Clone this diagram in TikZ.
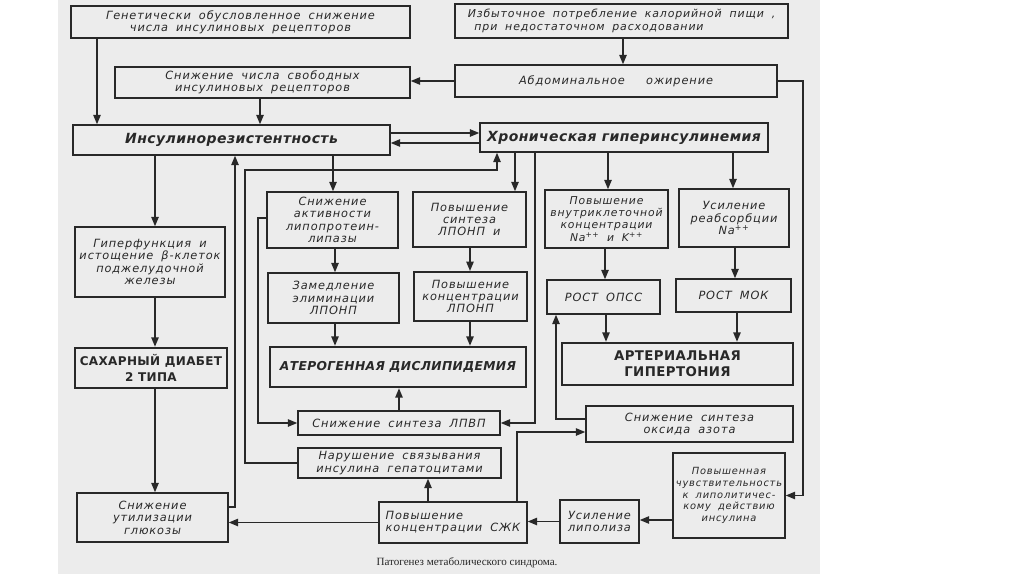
\documentclass[tikz,border=0pt]{standalone}
\usepackage{fontspec}
\setmainfont{DejaVu Sans}
\newfontfamily\hand[LetterSpace=8,WordSpace=1.8]{DejaVu Sans}
\newfontfamily\bhand[LetterSpace=3]{DejaVu Sans}
\newfontfamily\capfont{Liberation Serif}
\usetikzlibrary{arrows.meta}
\definecolor{scan}{RGB}{236,236,236}
\definecolor{ink}{RGB}{40,40,40}
\tikzset{
  box/.style={draw=ink, line width=1.1pt, inner sep=1pt, align=center, text=ink,
    font=\hand\itshape\fontsize{8.5}{9.3}\selectfont},
  tbox/.style={box, line width=1.9pt},
  mbox/.style={box, line width=1.5pt},
  bbox/.style={box, font=\bhand\bfseries\itshape\fontsize{10.5}{12}\selectfont},
  capbox/.style={tbox, font=\bhand\bfseries\fontsize{10}{12}\selectfont},
  arr/.style={draw=ink, line width=1.1pt, -{Triangle[length=7pt,width=5.5pt]}},
}
\newcommand\bx[7]{\node[#6, minimum width={(#4-#2)*0.75pt}, minimum height={(#5-#3)*0.75pt}] (#1) at ({(#2+#4)/2},{(#3+#5)/2}) {#7};}
\begin{document}
\begin{tikzpicture}[x=0.75pt,y=-0.75pt]
\useasboundingbox (0,0) rectangle (1024,574);
\fill[white] (0,0) rectangle (1024,574);
\fill[scan] (58,0) rectangle (820,574);
% helper coordinates
\foreach \k in {97,155,235,245,258,260,333,335,399,428,470,497,515,517,535,556,605,606,608,623,733,735,737,803}
  \coordinate (k\k) at (\k,0);
\foreach \h in {133,143,170,218,419,432,507,520}
  \coordinate (h\h) at (0,\h);
% boxes
\bx{gen}{71}{6}{410}{38}{box}{Генетически обусловленное снижение\\числа инсулиновых рецепторов}
\bx{exc}{455}{4}{788}{38}{box,align=left,font=\hand\itshape\fontsize{8.2}{9.3}\selectfont}{Избыточное потребление калорийной пищи ,\\\hspace*{5pt}при недостаточном расходовании}
\bx{free}{115}{67}{410}{98}{box}{Снижение числа свободных\\инсулиновых рецепторов}
\bx{abd}{455}{65}{777}{97}{box}{Абдоминальное\hspace{16pt}ожирение}
\bx{ir}{73}{125}{390}{155}{bbox}{Инсулинорезистентность}
\bx{hyp}{480}{123}{768}{152}{bbox}{Хроническая гиперинсулинемия}
\bx{b23}{75}{227}{225}{297}{box}{Гиперфункция и\\истощение β-клеток\\поджелудочной\\железы}
\bx{diab}{75}{348}{227}{388}{capbox,font=\bhand\bfseries\fontsize{9}{11.5}\selectfont}{САХАРНЫЙ ДИАБЕТ\\2 ТИПА}
\bx{gluc}{77}{493}{228}{542}{box}{Снижение\\утилизации\\глюкозы}
\bx{lpl}{267}{192}{398}{248}{box}{Снижение\\активности\\липопротеин-\\липазы}
\bx{vldl}{413}{192}{526}{247}{box}{Повышение\\синтеза\\ЛПОНП и}
\bx{elim}{268}{273}{399}{323}{box}{Замедление\\элиминации\\ЛПОНП}
\bx{vconc}{414}{272}{527}{321}{mbox}{Повышение\\концентрации\\ЛПОНП}
\bx{ath}{270}{347}{526}{387}{tbox,font=\bhand\bfseries\itshape\fontsize{9.2}{12}\selectfont}{АТЕРОГЕННАЯ ДИСЛИПИДЕМИЯ}
\bx{hdl}{298}{411}{500}{435}{box}{Снижение синтеза ЛПВП}
\bx{bind}{298}{448}{501}{478}{box}{Нарушение связывания\\инсулина гепатоцитами}
\bx{ffa}{379}{502}{527}{543}{box,align=left}{Повышение\\концентрации СЖК}
\bx{na}{545}{190}{668}{248}{box,font=\hand\itshape\fontsize{8.1}{9.2}\selectfont}{Повышение\\внутриклеточной\\концентрации\\Na\textsuperscript{++} и K\textsuperscript{++}}
\bx{reab}{679}{189}{789}{247}{box}{Усиление\\реабсорбции\\Na\textsuperscript{++}}
\bx{opss}{547}{280}{660}{314}{box}{РОСТ ОПСС}
\bx{mok}{676}{279}{791}{312}{box}{РОСТ МОК}
\bx{art}{562}{343}{793}{385}{capbox}{АРТЕРИАЛЬНАЯ\\ГИПЕРТОНИЯ}
\bx{no}{586}{406}{793}{442}{box}{Снижение синтеза\\оксида азота}
\bx{sens}{673}{453}{785}{538}{box,font=\hand\itshape\fontsize{7.4}{8.8}\selectfont}{Повышенная\\чувствительность\\к липолитичес-\\кому действию\\инсулина}
\bx{lip}{560}{500}{639}{543}{box}{Усиление\\липолиза}
\node[font=\capfont\fontsize{8.3}{10}\selectfont, text=ink] (cap) at (467,563) {Патогенез метаболического синдрома.};
% connectors
\draw[arr] (gen.south -| k97) -- (ir.north -| k97);
\draw[arr] (free.south -| k260) -- (ir.north -| k260);
\draw[arr] (exc.south -| k623) -- (abd.north -| k623);
\draw[arr] (abd.west) -- (free.east |- abd.west);
\draw[arr] (abd.east) -- (abd.east -| k803) |- (sens.east);
\draw[arr] (ir.east |- h133) -- (hyp.west |- h133);
\draw[arr] (hyp.west |- h143) -- (ir.east |- h143);
\draw[arr] (ir.south -| k155) -- (b23.north -| k155);
\draw[arr] (b23.south -| k155) -- (diab.north -| k155);
\draw[arr] (diab.south -| k155) -- (gluc.north -| k155);
\draw[arr] (gluc.east |- h507) -- (k235 |- h507) -- (ir.south -| k235);
\draw[arr] (ir.south -| k333) -- (lpl.north -| k333);
\draw[arr] (hyp.south -| k515) -- (vldl.north -| k515);
\draw[arr] (hyp.south -| k608) -- (na.north -| k608);
\draw[arr] (hyp.south -| k733) -- (reab.north -| k733);
\draw[arr] (lpl.south -| k335) -- (elim.north -| k335);
\draw[arr] (vldl.south -| k470) -- (vconc.north -| k470);
\draw[arr] (elim.south -| k335) -- (ath.north -| k335);
\draw[arr] (vconc.south -| k470) -- (ath.north -| k470);
\draw[arr] (hdl.north -| k399) -- (ath.south -| k399);
\draw[arr] (lpl.west |- h218) -- (k258 |- h218) |- (hdl.west);
\draw[arr] (hyp.south -| k535) |- (hdl.east);
\draw[arr] (bind.west) -| (k245 |- h170) -| (hyp.south -| k497);
\draw[arr] (ffa.north -| k428) -- (bind.south -| k428);
\draw[arr] (ffa.west) -- (gluc.east |- ffa.west);
\draw[arr] (ffa.north -| k517) |- (no.west |- h432);
\draw[arr] (no.west |- h419) -| (opss.south -| k556);
\draw[arr] (na.south -| k605) -- (opss.north -| k605);
\draw[arr] (reab.south -| k735) -- (mok.north -| k735);
\draw[arr] (opss.south -| k606) -- (art.north -| k606);
\draw[arr] (mok.south -| k737) -- (art.north -| k737);
\draw[arr] (sens.west |- h520) -- (lip.east |- h520);
\draw[arr] (lip.west) -- (ffa.east |- lip.west);
\end{tikzpicture}
\end{document}
